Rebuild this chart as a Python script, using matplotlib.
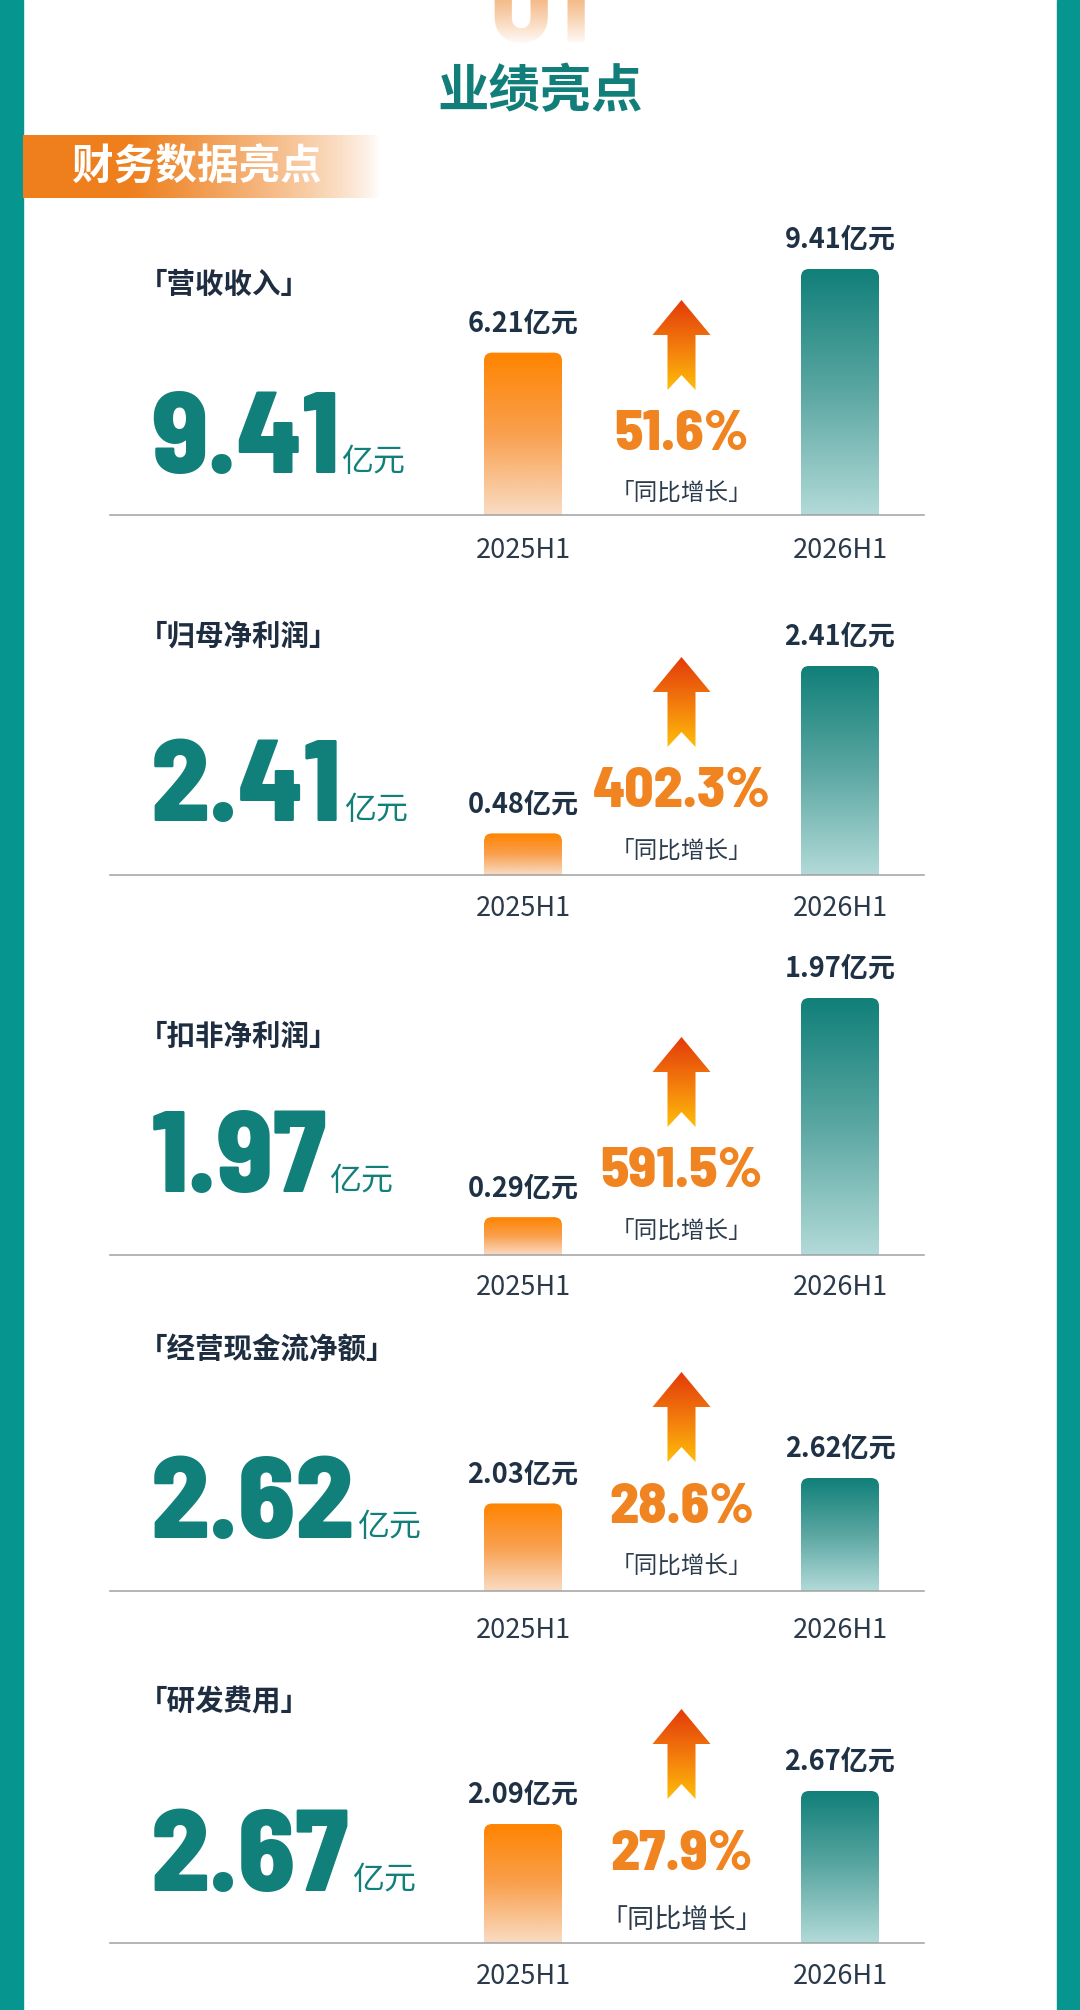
import numpy as np
import matplotlib
matplotlib.use("Agg")
import matplotlib.pyplot as plt
from matplotlib.patches import Rectangle, FancyBboxPatch, Polygon
from matplotlib.colors import to_rgb

plt.rcParams['font.family'] = ['Noto Sans CJK SC', 'DejaVu Sans']

# ---------------- data ----------------
metrics = ["营收收入", "归母净利润", "扣非净利润", "经营现金流净额", "研发费用"]
periods = ["2025H1", "2026H1"]
values_2025 = [6.21, 0.48, 0.29, 2.03, 2.09]
values_2026 = [9.41, 2.41, 1.97, 2.62, 2.67]
growth_pct = [51.6, 402.3, 591.5, 28.6, 27.9]
unit = "亿元"
page_title = "业绩亮点"
section_no = "01"
banner_title = "财务数据亮点"
growth_caption = "「同比增长」"

# ---------------- layout (pixels, y from top) ----------------
W, H = 1080, 2010
baselines = [515, 875, 1255, 1591, 1943]
bar_px = [246, 209, 257, 113, 152]
label_y = [285, 637, 1037, 1350, 1702]
big_base = [473, 821, 1192, 1538, 1891]
arrow_top = [300, 657, 1037, 1372, 1709]
pct_base = [450, 807, 1187, 1523, 1870]
cap_y = [493, 851, 1231, 1566, 1920]
cap_size = [17, 17, 17, 17, 19.5]
tick_pad_px = [22, 20, 19, 26, 20]
ax_left, ax_right = 110, 924
c0_px, c1_px = 523, 840
bar_w_px = 78
mid_x = (c0_px + c1_px) / 2

TEAL_BORDER = "#06958F"
TEAL = "#117F7A"
NAVY = "#1F3144"
ORANGE_TXT = "#F08420"
NUM_FONT = "Barlow Semi Condensed"
NUM_WEIGHT = 800

fig = plt.figure(figsize=(W / 100, H / 100), dpi=100)
bg = fig.add_axes([0, 0, 1, 1])
bg.set_xlim(0, W)
bg.set_ylim(H, 0)
bg.axis("off")


def vgrad_img(stops, n=256):
    t = np.linspace(0, 1, n)
    pos = np.linspace(0, 1, len(stops))
    cols = np.array([to_rgb(c) for c in stops])
    img = np.stack([np.interp(t, pos, cols[:, k]) for k in range(3)], axis=-1)
    return img[:, None, :]


# side borders
bg.add_patch(Rectangle((0, 0), 23, H, color=TEAL_BORDER, zorder=1))
bg.add_patch(Rectangle((W - 23, 0), 23, H, color=TEAL_BORDER, zorder=1))

# faded "01"
bg.text(540, 42, section_no, ha="center", va="baseline", fontsize=88,
        family=NUM_FONT, fontweight="bold", color="#F2A766", zorder=2)
fade = np.ones((64, 1, 4))
fade[:, 0, 3] = np.linspace(0.3, 1.0, 64) ** 1.2
bg.imshow(fade, extent=(470, 620, 46, 0), origin="upper", aspect="auto",
          interpolation="bilinear", zorder=3)
bg.add_patch(Rectangle((470, 45), 150, 40, color="white", zorder=3))

# title
bg.text(540, 92, page_title, ha="center", va="center", fontsize=37,
        fontweight="bold", color="#127E79", zorder=4)

# banner
bx0, bx1, by0, by1 = 23, 380, 135, 198
xs = np.linspace(bx0, bx1, 400)
alpha = np.clip(1 - ((xs - 130) / (bx1 - 130)), 0, 1)
alpha = np.where(xs < 130, 1.0, alpha ** 0.75)
ban = np.zeros((1, 400, 4))
ban[0, :, :3] = to_rgb("#EE7F1C")
ban[0, :, 3] = alpha
bg.imshow(ban, extent=(bx0, bx1, by1, by0), origin="upper", aspect="auto",
          interpolation="bilinear", zorder=2)
bg.text(72, 168, banner_title, ha="left", va="center", fontsize=30,
        fontweight="bold", color="white", zorder=3)

orange_bar = ["#FF8400", "#F9A04E", "#F9DCC4"]
teal_bar = ["#117F79", "#5BA7A2", "#B2DAD8"]
arrow_cols = ["#E33A0A", "#F27A0C", "#FFBE0A"]

xpp = 1.0 / (c1_px - c0_px)          # data-x per pixel
x_lo = -(c0_px - ax_left) * xpp
x_hi = (ax_right - c0_px) * xpp
bar_w = bar_w_px * xpp
r_px = 8

for i in range(len(metrics)):
    bl, hp = baselines[i], bar_px[i]
    vals = [values_2025[i], values_2026[i]]
    vmax = values_2026[i]
    ax = fig.add_axes([ax_left / W, 1 - bl / H, (ax_right - ax_left) / W, hp / H])
    ax.patch.set_alpha(0)
    ax.set_zorder(5)
    xpos = np.arange(len(periods))
    bars = ax.bar(xpos, vals, width=bar_w, color="none", edgecolor="none")
    ypp = vmax / hp
    for j, rect in enumerate(bars):
        x0, w, h = rect.get_x(), rect.get_width(), rect.get_height()
        patch = FancyBboxPatch((x0, -r_px * ypp), w, h + r_px * ypp,
                               boxstyle=f"round,pad=0,rounding_size={r_px * xpp}",
                               mutation_aspect=ypp / xpp,
                               facecolor="none", edgecolor="none",
                               transform=ax.transData)
        ax.add_patch(patch)
        im = ax.imshow(vgrad_img(orange_bar if j == 0 else teal_bar),
                       extent=(x0, x0 + w, 0, h), origin="upper", aspect="auto",
                       interpolation="bilinear", zorder=2)
        im.set_clip_path(patch)
        ax.annotate(f"{vals[j]:.2f}{unit}", xy=(xpos[j], vals[j]), xytext=(0, 29),
                    textcoords="offset pixels", ha="center", va="center",
                    fontsize=19.5, fontweight="bold", color=NAVY,
                    annotation_clip=False)
    ax.set_xlim(x_lo, x_hi)
    ax.set_ylim(0, vmax)
    ax.set_xticks(xpos, periods)
    ax.set_yticks([])
    ax.tick_params(axis="x", length=0, pad=tick_pad_px[i] * 0.72,
                   labelsize=19.5, labelcolor="#2B3A4A")
    for s in ("top", "left", "right"):
        ax.spines[s].set_visible(False)
    ax.spines["bottom"].set_color("#A0A0A0")
    ax.spines["bottom"].set_linewidth(1.1)
    ax.spines["bottom"].set_zorder(3)

    # section label
    bg.text(139, label_y[i], f"「{metrics[i]}」", ha="left", va="center",
            fontsize=20.5, fontweight="bold", color="#1E2E40", zorder=4)
    # big number + unit
    num = bg.text(151, big_base[i], f"{values_2026[i]:.2f}", ha="left",
                  va="baseline", fontsize=83, family=NUM_FONT,
                  fontweight=NUM_WEIGHT, color=TEAL, zorder=4)
    bg.annotate(unit, xy=(1, big_base[i]), xycoords=(num, "data"),
                xytext=(2, 2), textcoords="offset pixels", ha="left",
                va="baseline", fontsize=23, color=TEAL, zorder=4)
    # arrow
    ty = arrow_top[i]
    pts = [(mid_x, ty), (mid_x + 29, ty + 35), (mid_x + 14, ty + 35),
           (mid_x + 14, ty + 90), (mid_x, ty + 75), (mid_x - 14, ty + 90),
           (mid_x - 14, ty + 35), (mid_x - 29, ty + 35)]
    arr = Polygon(pts, closed=True, facecolor="none", edgecolor="none",
                  transform=bg.transData)
    bg.add_patch(arr)
    aim = bg.imshow(vgrad_img(arrow_cols), extent=(mid_x - 30, mid_x + 30, ty + 91, ty),
                    origin="upper", aspect="auto", interpolation="bilinear", zorder=4)
    aim.set_clip_path(arr)
    # growth
    bg.text(mid_x, pct_base[i], f"{growth_pct[i]:.1f}%", ha="center",
            va="baseline", fontsize=41, family=NUM_FONT, fontweight=NUM_WEIGHT,
            color=ORANGE_TXT, zorder=4)
    bg.text(mid_x, cap_y[i], growth_caption, ha="center", va="center",
            fontsize=cap_size[i], color="#2E3D4D", zorder=4)

bg.set_xlim(0, W)
bg.set_ylim(H, 0)
fig.savefig("out.png", dpi=100)
